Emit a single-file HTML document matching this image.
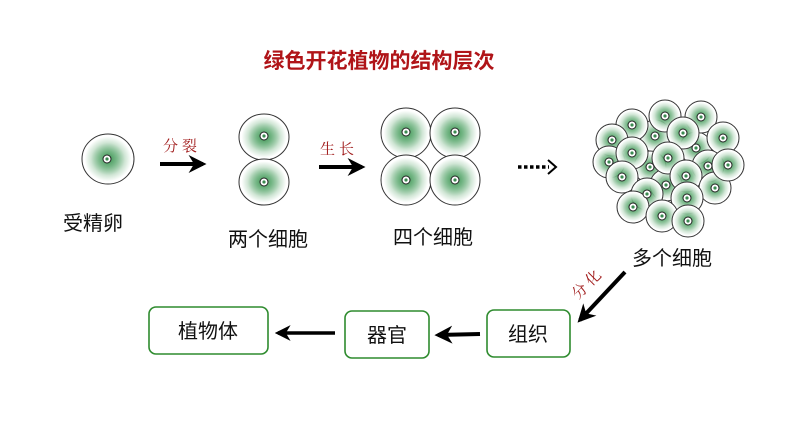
<!DOCTYPE html>
<html><head><meta charset="utf-8"><style>
html,body{margin:0;padding:0;background:#fff;}
svg{display:block;}
.lbl{font-family:"Liberation Sans","Noto Sans CJK SC",sans-serif;font-size:20px;fill:#111;}
.red{font-family:"Noto Serif CJK SC","Liberation Serif",serif;font-size:15px;fill:#a01a1a;letter-spacing:4px;}
</style></head><body>
<svg width="794" height="447" viewBox="0 0 794 447" xmlns="http://www.w3.org/2000/svg">
<defs>
<radialGradient id="g" cx="50%" cy="50%" r="50%">
<stop offset="0" stop-color="#2e8b45" stop-opacity="0.95"/>
<stop offset="0.3" stop-color="#5aa86e" stop-opacity="0.85"/>
<stop offset="0.65" stop-color="#cfe5d4"/>
<stop offset="0.9" stop-color="#ffffff"/>
<stop offset="1" stop-color="#ffffff"/>
</radialGradient>
<marker id="ah" viewBox="0 0 10 10" refX="8" refY="5" markerWidth="4.5" markerHeight="4.5" orient="auto"><path d="M0,0 L10,5 L0,10 L3,5 z" fill="#000"/></marker>
<g id="nuc"><circle r="4" fill="#fff" stroke="#222" stroke-width="1"/><circle r="1.6" fill="#3a8a50"/></g>
</defs>
<text x="379" y="68" text-anchor="middle" font-family="Liberation Sans,'Noto Sans CJK SC',sans-serif" font-weight="bold" font-size="21" fill="#b01418">绿色开花植物的结构层次</text>

<ellipse cx="108" cy="159" rx="26" ry="25" fill="url(#g)" stroke="#333" stroke-width="1"/>
<use href="#nuc" x="107" y="159"/>
<text class="lbl" x="63" y="230">受精卵</text>

<text class="red" x="163" y="151">分裂</text>
<line x1="160" y1="164" x2="203" y2="164" stroke="#000" stroke-width="4" marker-end="url(#ah)"/>

<ellipse cx="264" cy="137" rx="25" ry="23" fill="url(#g)" stroke="#333" stroke-width="1"/>
<ellipse cx="264" cy="182" rx="25" ry="23" fill="url(#g)" stroke="#333" stroke-width="1"/>
<use href="#nuc" x="264" y="136"/><use href="#nuc" x="264" y="182"/>
<text class="lbl" x="228" y="246">两个细胞</text>

<text class="red" x="320" y="154">生长</text>
<line x1="319" y1="167" x2="362" y2="167" stroke="#000" stroke-width="4" marker-end="url(#ah)"/>

<g fill="url(#g)" stroke="#333" stroke-width="1">
<circle cx="406" cy="133" r="25"/><circle cx="455" cy="133" r="25"/>
<circle cx="406" cy="180" r="25"/><circle cx="455" cy="180" r="25"/>
</g>
<use href="#nuc" x="406" y="132"/><use href="#nuc" x="455" y="132"/><use href="#nuc" x="406" y="180"/><use href="#nuc" x="455" y="180"/>
<text class="lbl" x="393" y="244">四个细胞</text>

<line x1="518" y1="167" x2="549" y2="167" stroke="#000" stroke-width="3.5" stroke-dasharray="3.5,2.5"/>
<path d="M548,160 L556,167 L548,174" fill="none" stroke="#000" stroke-width="2"/>

<g>
<g fill="url(#g)" stroke="#333" stroke-width="1">
<circle cx="655" cy="136" r="16"/><circle cx="696" cy="148" r="16"/><circle cx="650" cy="167" r="16"/><circle cx="666" cy="185" r="16"/><circle cx="708" cy="166" r="16"/>
<circle cx="665" cy="116" r="16"/><circle cx="701" cy="117" r="16"/><circle cx="632" cy="125" r="16"/><circle cx="612" cy="140" r="16"/><circle cx="683" cy="133" r="16"/><circle cx="723" cy="138" r="16"/>
<circle cx="609" cy="162" r="16"/><circle cx="632" cy="153" r="16"/><circle cx="668" cy="158" r="16"/><circle cx="622" cy="177" r="16"/><circle cx="686" cy="176" r="16"/><circle cx="715" cy="188" r="16"/><circle cx="728" cy="165" r="16"/>
<circle cx="647" cy="194" r="16"/><circle cx="633" cy="207" r="16"/><circle cx="687" cy="198" r="16"/><circle cx="662" cy="216" r="16"/><circle cx="688" cy="221" r="16"/>
</g>
<use href="#nuc" x="655" y="136"/><use href="#nuc" x="696" y="148"/><use href="#nuc" x="650" y="167"/><use href="#nuc" x="666" y="185"/><use href="#nuc" x="708" y="166"/>
<use href="#nuc" x="665" y="116"/><use href="#nuc" x="701" y="117"/><use href="#nuc" x="632" y="125"/><use href="#nuc" x="612" y="140"/><use href="#nuc" x="683" y="133"/><use href="#nuc" x="723" y="138"/>
<use href="#nuc" x="609" y="162"/><use href="#nuc" x="632" y="153"/><use href="#nuc" x="668" y="158"/><use href="#nuc" x="622" y="177"/><use href="#nuc" x="686" y="176"/><use href="#nuc" x="715" y="188"/><use href="#nuc" x="728" y="165"/>
<use href="#nuc" x="647" y="194"/><use href="#nuc" x="633" y="207"/><use href="#nuc" x="687" y="198"/><use href="#nuc" x="662" y="216"/><use href="#nuc" x="688" y="221"/>
</g>
<text class="lbl" x="632" y="265">多个细胞</text>

<line x1="625" y1="272" x2="580" y2="320" stroke="#000" stroke-width="4" marker-end="url(#ah)"/>
<text class="red" transform="translate(578,300) rotate(-45)" font-size="14">分化</text>

<g fill="#fff" stroke="#2e8b2e" stroke-width="1.6">
<rect x="149" y="307" width="119" height="47" rx="7"/>
<rect x="345" y="311" width="84" height="47" rx="7"/>
<rect x="487" y="310" width="83" height="47" rx="7"/>
</g>
<text class="lbl" x="208" y="338" text-anchor="middle">植物体</text>
<text class="lbl" x="387" y="342" text-anchor="middle">器官</text>
<text class="lbl" x="528" y="341" text-anchor="middle">组织</text>

<line x1="335" y1="333" x2="278" y2="333" stroke="#000" stroke-width="3.5" marker-end="url(#ah)"/>
<line x1="480" y1="334" x2="438" y2="335" stroke="#000" stroke-width="4" marker-end="url(#ah)"/>
</svg>
</body></html>
